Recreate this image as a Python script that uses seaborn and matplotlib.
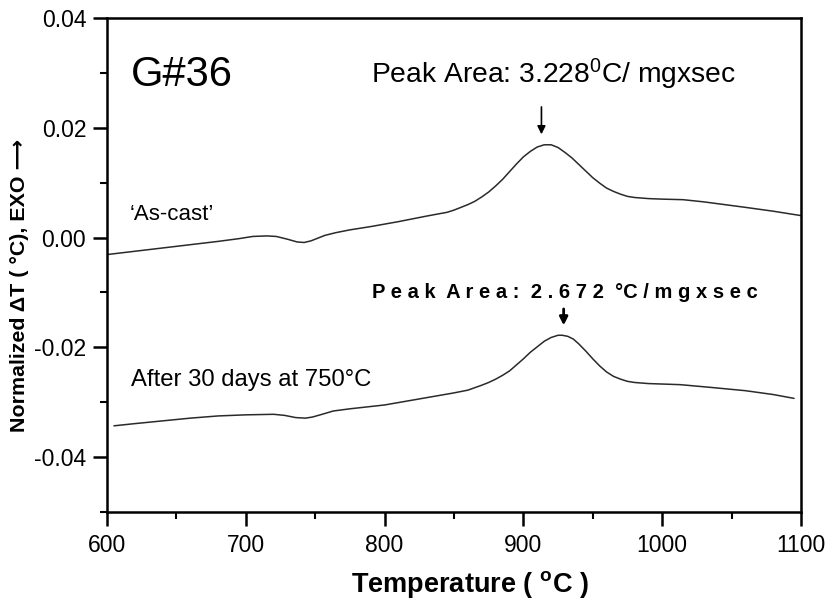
import numpy as np
import pandas as pd
import matplotlib
matplotlib.use("Agg")
import matplotlib.pyplot as plt
from matplotlib.ticker import MultipleLocator
import seaborn as sns

# DTA traces of alloy G#36
temp_as_cast = [600, 620, 640, 660, 680, 695, 705, 715, 722, 730, 737, 742, 747,
                752, 757, 765, 775, 790, 810, 830, 845, 850, 855, 860, 865, 870,
                875, 880, 885, 890, 895, 900, 905, 910, 915, 920, 925, 930, 935,
                940, 945, 950, 955, 960, 965, 970, 975, 980, 990, 1000, 1015, 1030,
                1045, 1060, 1080, 1100]
dt_as_cast = [-0.0031, -0.0025, -0.0019, -0.0013, -0.0007, -0.0002, 0.0002, 0.0003,
              0.0002, -0.0003, -0.0008, -0.0009, -0.0006, -0.0001, 0.0004, 0.0009,
              0.0014, 0.0020, 0.0029, 0.0039, 0.0046, 0.0050, 0.0055, 0.0060,
              0.0066, 0.0074, 0.0083, 0.0094, 0.0106, 0.0120, 0.0134, 0.0147,
              0.0157, 0.0165, 0.0169, 0.0169, 0.0164, 0.0155, 0.0145, 0.0133,
              0.0121, 0.0109, 0.0099, 0.0090, 0.0084, 0.0079, 0.0075, 0.0073,
              0.0071, 0.0070, 0.0069, 0.0065, 0.0060, 0.0055, 0.0048, 0.0040]

temp_aged = [605, 620, 640, 660, 680, 700, 720, 728, 736, 743, 748, 755, 763, 775,
             800, 825, 850, 860, 870, 875, 880, 885, 890, 895, 900, 905, 910, 915,
             920, 925, 928, 932, 936, 940, 945, 950, 955, 960, 965, 970, 975, 980,
             990, 1013, 1035, 1060, 1080, 1095]
dt_aged = [-0.0343, -0.0339, -0.0334, -0.0329, -0.0325, -0.0323, -0.0322, -0.0324,
           -0.0328, -0.0329, -0.0327, -0.0322, -0.0316, -0.0312, -0.0305, -0.0294,
           -0.0283, -0.0278, -0.0269, -0.0264, -0.0258, -0.0251, -0.0243, -0.0232,
           -0.0221, -0.0209, -0.0199, -0.0189, -0.0182, -0.0178, -0.0178, -0.0180,
           -0.0185, -0.0194, -0.0207, -0.0221, -0.0234, -0.0245, -0.0253, -0.0258,
           -0.0262, -0.0264, -0.0266, -0.0268, -0.0273, -0.0279, -0.0286, -0.0293]

x_ticks = [600, 700, 800, 900, 1000, 1100]
y_ticks = [-0.04, -0.02, 0.00, 0.02, 0.04]

df = pd.concat([
    pd.DataFrame({"T": temp_as_cast, "dT": dt_as_cast, "state": "As-cast"}),
    pd.DataFrame({"T": temp_aged, "dT": dt_aged, "state": "Aged"}),
])

sns.set_style("ticks")
plt.rcParams["font.family"] = ["Liberation Sans", "DejaVu Sans"]
plt.rcParams["mathtext.fontset"] = "custom"
plt.rcParams["mathtext.rm"] = "Liberation Sans"
plt.rcParams["mathtext.it"] = "Liberation Sans"
plt.rcParams["mathtext.bf"] = "Liberation Sans:bold"
for key in ["text.color", "axes.labelcolor", "xtick.color", "ytick.color"]:
    plt.rcParams[key] = "black"

fig = plt.figure(figsize=(8.3, 6.01), dpi=100)
ax = fig.add_axes([107 / 830, 1 - 512 / 601, (801 - 107) / 830, (512 - 18) / 601])

sns.lineplot(data=df, x="T", y="dT", units="state", estimator=None,
             color="#2a2a2a", linewidth=1.1, ax=ax, legend=False)

ax.set_xlim(600, 1100)
ax.set_ylim(-0.05, 0.04)
ax.set_xticks(x_ticks)
ax.set_yticks(y_ticks)
ax.set_yticklabels([f"{v:.2f}" for v in y_ticks])
ax.xaxis.set_minor_locator(MultipleLocator(50))
ax.yaxis.set_minor_locator(MultipleLocator(0.01))
ax.tick_params(which="major", direction="out", length=10, width=1.8,
               labelsize=16.5, color="black")
ax.tick_params(axis="x", which="major", pad=6)
ax.tick_params(axis="y", which="major", pad=5)
ax.tick_params(which="minor", direction="out", length=5, width=1.5, color="black")
for side in ["left", "right", "top", "bottom"]:
    ax.spines[side].set_visible(True)
    ax.spines[side].set_linewidth(1.8)
    ax.spines[side].set_color("black")
ax.set_xlabel("")
ax.set_ylabel("")

fig.text(470 / 830, 1 - 585 / 601, r"Temperature ( $^{\mathbf{o}}$C )",
         ha="center", va="center", fontsize=19.5, fontweight="bold")
fig.text(20 / 830, 1 - 285 / 601, "Normalized ΔT ( °C), EXO ⟶",
         ha="center", va="center", rotation=90, fontsize=15.4, fontweight="bold")

ax.text(617, 0.0297, "G#36", fontsize=30, ha="left", va="center")
ax.text(922, 0.0297, r"Peak Area: 3.228$^{0}$C/ mgxsec", fontsize=20.3,
        ha="center", va="center")
ax.annotate("", xy=(913, 0.0183), xytext=(913, 0.0243),
            arrowprops=dict(arrowstyle="-|>", color="black", lw=1.2,
                            mutation_scale=12))
ax.text(930, -0.0100, "P e a k  A r e a :  2 . 6 7 2  °C / m g x s e c",
        fontsize=14.5, fontweight="bold", ha="center", va="center")
ax.annotate("", xy=(929, -0.0165), xytext=(929, -0.0125),
            arrowprops=dict(arrowstyle="-|>", color="black", lw=2,
                            mutation_scale=12))
ax.text(616, 0.0042, "‘As-cast’", fontsize=16, ha="left", va="center")
ax.text(617, -0.0260, "After 30 days at 750°C", fontsize=17.2, ha="left", va="center")

fig.savefig("out.png", dpi=100)
